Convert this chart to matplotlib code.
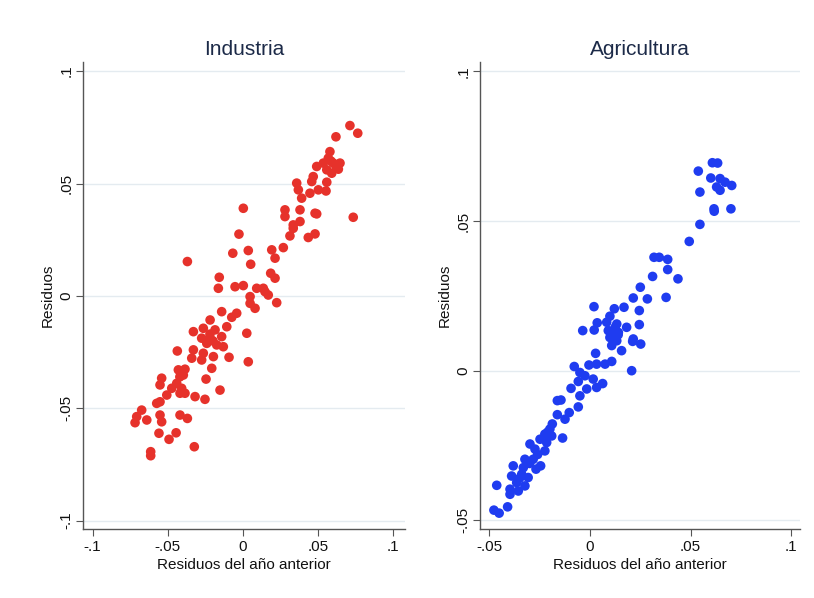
import matplotlib
matplotlib.use("Agg")
import matplotlib.pyplot as plt

plt.rcParams['font.family'] = ['Liberation Sans', 'DejaVu Sans']

# Industria (red)
ind_x = [0.0711, 0.0763, 0.0618, 0.0578, 0.0567, 0.0490, 0.0534, 0.0600, 0.0645, 0.0634,
         0.0557, 0.0590, 0.0467, 0.0457, 0.0357, 0.0557, 0.0501, 0.0552, 0.0368, 0.0445,
         0.0390, 0.0379, 0.0279, 0.0279, 0.0479, 0.0490, 0.0733, 0.0002, 0.0379, 0.0334,
         0.0334, -0.0027, 0.0312, 0.0479, 0.0434, 0.0268, 0.0191, 0.0213, 0.0035, -0.0068,
         0.0051, -0.0370, 0.0184, 0.0213, -0.0158, -0.0164, -0.0053, 0.0002, 0.0091, 0.0135,
         0.0146, 0.0047, 0.0168, 0.0047, 0.0224, 0.0080, -0.0142, -0.0042, -0.0075, -0.0219,
         -0.0108, -0.0264, -0.0330, -0.0186, 0.0025, -0.0275, -0.0219, -0.0142, -0.0241, -0.0175,
         -0.0131, -0.0437, -0.0330, -0.0264, -0.0341, -0.0275, -0.0197, -0.0093, 0.0035, -0.0208,
         -0.0430, -0.0386, -0.0397, -0.0541, -0.0246, -0.0552, -0.0441, -0.0474, -0.0408, -0.0419,
         -0.0386, -0.0153, -0.0507, -0.0319, -0.0253, -0.0552, -0.0574, -0.0674, -0.0707, -0.0718,
         -0.0640, -0.0552, -0.0541, -0.0419, -0.0370, -0.0559, -0.0445, -0.0492, -0.0324, -0.0614,
         -0.0614, 0.0620, 0.0585, -0.0220, -0.0200, -0.0420]
ind_y = [0.0758, 0.0724, 0.0708, 0.0642, 0.0613, 0.0576, 0.0591, 0.0591, 0.0591, 0.0564,
         0.0561, 0.0546, 0.0531, 0.0509, 0.0502, 0.0506, 0.0472, 0.0467, 0.0472, 0.0457,
         0.0435, 0.0383, 0.0383, 0.0353, 0.0368, 0.0365, 0.0350, 0.0390, 0.0331, 0.0316,
         0.0301, 0.0275, 0.0267, 0.0276, 0.0260, 0.0215, 0.0205, 0.0168, 0.0202, 0.0190,
         0.0141, 0.0153, 0.0101, 0.0079, 0.0083, 0.0034, 0.0041, 0.0046, 0.0034, 0.0034,
         0.0019, -0.0003, 0.0004, -0.0033, -0.0030, -0.0055, -0.0070, -0.0077, -0.0095, -0.0107,
         -0.0137, -0.0144, -0.0159, -0.0151, -0.0166, -0.0188, -0.0188, -0.0181, -0.0211, -0.0218,
         -0.0226, -0.0245, -0.0240, -0.0255, -0.0277, -0.0285, -0.0270, -0.0273, -0.0293, -0.0322,
         -0.0329, -0.0326, -0.0352, -0.0366, -0.0370, -0.0396, -0.0389, -0.0411, -0.0411, -0.0433,
         -0.0433, -0.0419, -0.0441, -0.0448, -0.0460, -0.0471, -0.0478, -0.0508, -0.0537, -0.0564,
         -0.0552, -0.0530, -0.0560, -0.0530, -0.0545, -0.0611, -0.0609, -0.0638, -0.0671, -0.0693,
         -0.0711, 0.0575, 0.0600, -0.0170, -0.0200, -0.0360]

# Agricultura (blue)
agr_x = [0.0608, 0.0634, 0.0538, 0.0600, 0.0646, 0.0671, 0.0704, 0.0629, 0.0646, 0.0546,
         0.0616, 0.0617, 0.0700, 0.0546, 0.0493, 0.0318, 0.0344, 0.0386, 0.0386, 0.0311,
         0.0437, 0.0250, 0.0215, 0.0285, 0.0378, 0.0020, 0.0121, 0.0169, 0.0245, 0.0099,
         0.0036, 0.0083, 0.0133, 0.0182, 0.0245, -0.0036, 0.0021, 0.0091, 0.0141, 0.0116,
         0.0215, 0.0099, 0.0133, 0.0108, 0.0157, 0.0212, 0.0252, 0.0028, 0.0108, 0.0075,
         0.0033, -0.0005, -0.0078, 0.0207, -0.0050, -0.0025, 0.0016, -0.0058, 0.0063, 0.0033,
         -0.0016, -0.0094, -0.0050, -0.0162, -0.0144, -0.0058, -0.0103, -0.0162, -0.0124, -0.0187,
         -0.0199, -0.0224, -0.0190, -0.0136, -0.0248, -0.0215, -0.0298, -0.0273, -0.0224, -0.0323,
         -0.0282, -0.0381, -0.0245, -0.0268, -0.0331, -0.0389, -0.0339, -0.0307, -0.0364, -0.0323,
         -0.0463, -0.0397, -0.0356, -0.0397, -0.0409, -0.0477, -0.0451, 0.0125, 0.0140, 0.0110,
         -0.0210, -0.0260, -0.0300, -0.0350]
agr_y = [0.0695, 0.0694, 0.0667, 0.0644, 0.0642, 0.0630, 0.0619, 0.0614, 0.0603, 0.0597,
         0.0541, 0.0533, 0.0541, 0.0489, 0.0432, 0.0379, 0.0379, 0.0372, 0.0338, 0.0315,
         0.0307, 0.0279, 0.0243, 0.0240, 0.0245, 0.0214, 0.0207, 0.0212, 0.0201, 0.0182,
         0.0160, 0.0162, 0.0156, 0.0145, 0.0154, 0.0134, 0.0136, 0.0134, 0.0128, 0.0111,
         0.0106, 0.0111, 0.0100, 0.0084, 0.0067, 0.0098, 0.0089, 0.0058, 0.0031, 0.0022,
         0.0022, 0.0019, 0.0014, 0.0000, -0.0006, -0.0017, -0.0028, -0.0036, -0.0043, -0.0056,
         -0.0061, -0.0059, -0.0084, -0.0100, -0.0098, -0.0121, -0.0140, -0.0147, -0.0162, -0.0178,
         -0.0195, -0.0212, -0.0218, -0.0225, -0.0229, -0.0240, -0.0245, -0.0262, -0.0268, -0.0296,
         -0.0296, -0.0318, -0.0318, -0.0329, -0.0324, -0.0352, -0.0346, -0.0357, -0.0374, -0.0385,
         -0.0383, -0.0396, -0.0402, -0.0413, -0.0455, -0.0466, -0.0476, 0.0145, 0.0120, 0.0130,
         -0.0205, -0.0280, -0.0310, -0.0360]

ind_xticks = [-0.1, -0.05, 0, 0.05, 0.1]
ind_xlabels = ['-.1', '-.05', '0', '.05', '.1']
ind_yticks = [-0.1, -0.05, 0, 0.05, 0.1]
ind_ylabels = ['-.1', '-.05', '0', '.05', '.1']
agr_xticks = [-0.05, 0, 0.05, 0.1]
agr_xlabels = ['-.05', '0', '.05', '.1']
agr_yticks = [-0.05, 0, 0.05, 0.1]
agr_ylabels = ['-.05', '0', '.05', '.1']

fig = plt.figure(figsize=(8.14, 5.98), dpi=100)
ax1 = fig.add_axes([0.102, 0.1154, 0.3955, 0.7806])
ax2 = fig.add_axes([0.5897, 0.1154, 0.3931, 0.7806])

def style(ax, title, xt, xl, yt, yl, xlim, ylim):
    ax.set_xlim(*xlim)
    ax.set_ylim(*ylim)
    ax.set_xticks(xt)
    ax.set_xticklabels(xl, fontsize=11)
    ax.set_yticks(yt)
    ax.set_yticklabels(yl, fontsize=11, rotation=90, va='center')
    ax.yaxis.grid(True, color='#e4ebf0', linewidth=1.0)
    ax.set_axisbelow(True)
    for s in ['top', 'right']:
        ax.spines[s].set_visible(False)
    for s in ['left', 'bottom']:
        ax.spines[s].set_color('#555555')
        ax.spines[s].set_linewidth(1.0)
    ax.tick_params(axis='both', direction='out', length=5, color='#555555', labelcolor='#111111')
    ax.tick_params(axis='y', pad=2)
    ax.tick_params(axis='x', pad=3)
    ax.set_title(title, fontsize=15, color='#1c2a48', pad=5)
    ax.set_xlabel('Residuos del año anterior', fontsize=11, color='#111111', labelpad=3)
    ax.set_ylabel('Residuos', fontsize=11, color='#111111', labelpad=3)

ax1.scatter(ind_x, ind_y, s=48, color='#e6322b', edgecolors='none', zorder=3)
style(ax1, 'Industria', ind_xticks, ind_xlabels, ind_yticks, ind_ylabels,
      (-0.1064, 0.1077), (-0.1037, 0.104))

ax2.scatter(agr_x, agr_y, s=48, color='#1f3cf0', edgecolors='none', zorder=3)
style(ax2, 'Agricultura', agr_xticks, agr_xlabels, agr_yticks, agr_ylabels,
      (-0.0546, 0.1043), (-0.0529, 0.1031))

fig.savefig('out.png', dpi=100)
